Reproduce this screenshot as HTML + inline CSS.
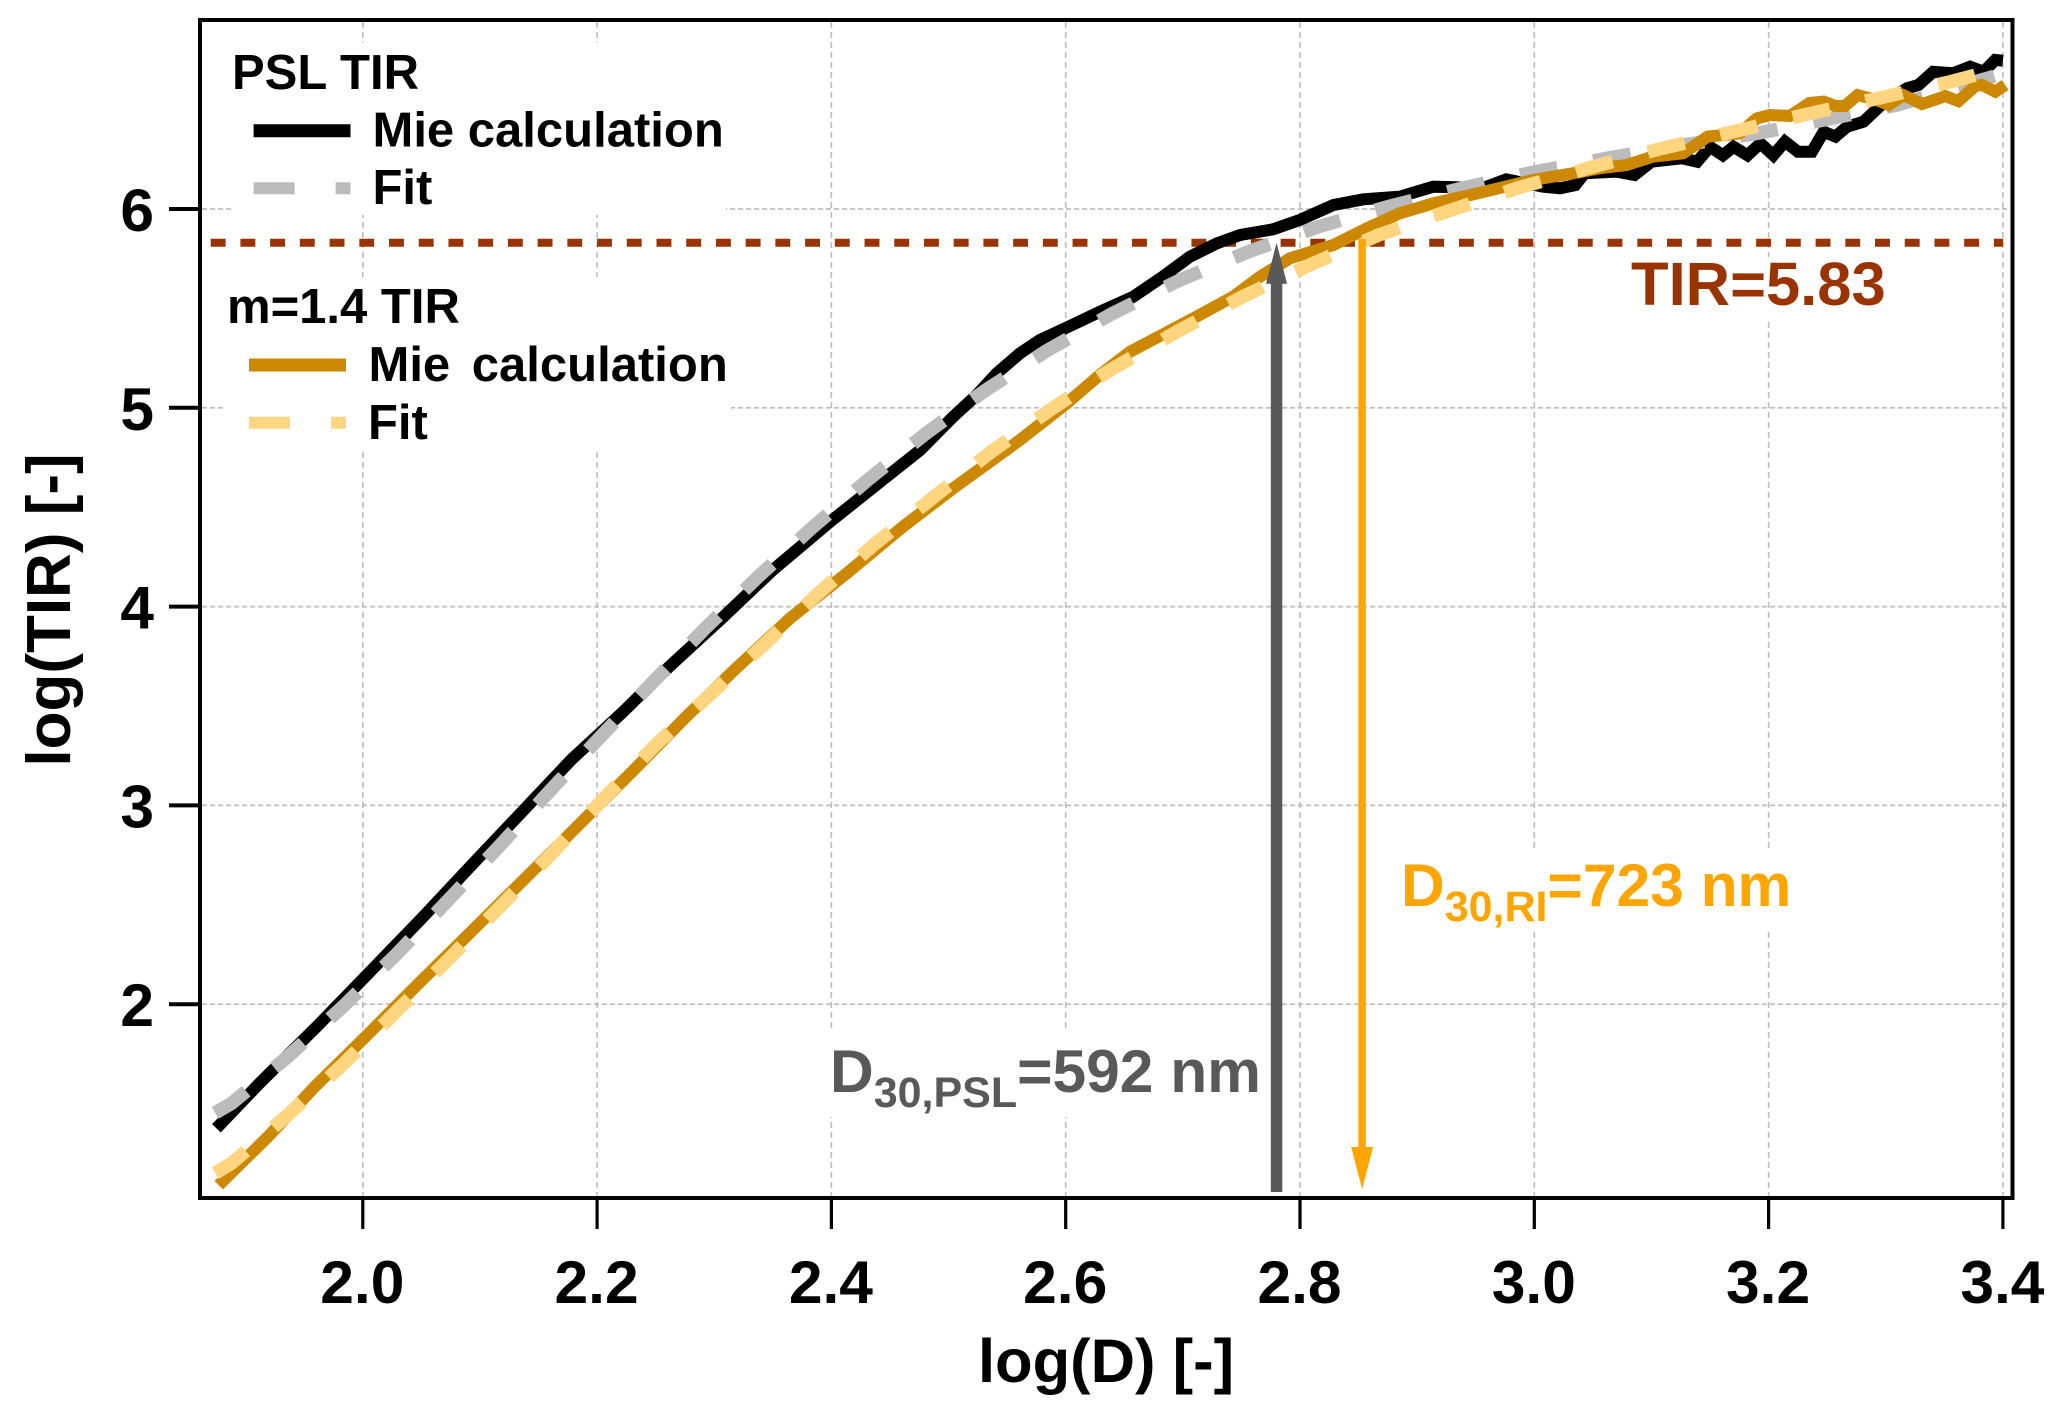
<!DOCTYPE html>
<html>
<head>
<meta charset="utf-8">
<title>log(TIR) vs log(D)</title>
<style>
html,body{margin:0;padding:0;background:#fff;}
svg{display:block;}
text{font-family:"Liberation Sans",Arial,sans-serif;font-weight:bold;}
</style>
</head>
<body>
<svg id="chart" xmlns="http://www.w3.org/2000/svg" width="2068" height="1413" viewBox="0 0 2068 1413">
<rect x="0" y="0" width="2068" height="1413" fill="#fff"/>
<g id="grid"></g>
<g id="masks">
<rect x="232" y="43" width="494" height="172" fill="#fff"/>
<rect x="224" y="277" width="507" height="173" fill="#fff"/>
<rect x="1626" y="257" width="264" height="61" fill="#fff"/>
<rect x="825" y="1032" width="437" height="85" fill="#fff"/>
<rect x="1396" y="850" width="400" height="80" fill="#fff"/>
</g>
<g id="threshold"></g>
<g id="series"></g>
<g id="arrows"></g>
<g id="axes"></g>

<g>
<text x="232" y="89" font-size="49" fill="#000">PSL TIR</text>
<line x1="253.6" x2="350.5" y1="130.7" y2="130.7" stroke="#000" stroke-width="13"/>
<text x="372.5" y="146.7" font-size="49" fill="#000">Mie calculation</text>
<line x1="253.6" x2="350.5" y1="188.3" y2="188.3" stroke="#bbbbbb" stroke-width="12" stroke-dasharray="41 41"/>
<text x="372.5" y="204" font-size="49" fill="#000">Fit</text>
</g>
<g>
<text x="227" y="323" font-size="49" fill="#000">m=1.4 TIR</text>
<line x1="249" x2="346" y1="365" y2="365" stroke="#cc8800" stroke-width="13"/>
<text x="368.5" y="381" font-size="49" fill="#000" word-spacing="8">Mie calculation</text>
<line x1="249" x2="346" y1="422.7" y2="422.7" stroke="#ffd67f" stroke-width="12" stroke-dasharray="41 41"/>
<text x="368" y="439" font-size="49" fill="#000">Fit</text>
</g>

<text x="1631" y="305" font-size="61.5" fill="#993300">TIR=5.83</text>

<text x="830" y="1092" font-size="60.5" fill="#595959">D<tspan font-size="43" dy="15">30,PSL</tspan><tspan dy="-15">=592 nm</tspan></text>
<text x="1401" y="906" font-size="60.5" fill="#ffa500">D<tspan font-size="43" dy="15">30,RI</tspan><tspan dy="-15">=723 nm</tspan></text>

<text x="1106" y="1382" font-size="61.5" fill="#000" text-anchor="middle">log(D) [-]</text>
<text transform="translate(70,610) rotate(-90)" font-size="62" fill="#000" text-anchor="middle">log(TIR) [-]</text>
</svg>

<script>
// Axis tick labels
const xTicks = [2.0, 2.2, 2.4, 2.6, 2.8, 3.0, 3.2, 3.4];
const yTicks = [2, 3, 4, 5, 6];

// Reference values
const tirThreshold = 5.83;
const d30Psl = 2.78;
const d30Ri = 2.853;

// PSL Mie calculation
const pslMieX = [1.875,1.912,1.962,2.0076,2.05,2.093,2.136,2.178,2.222,2.262,2.305,2.35,2.399,2.447,2.476,2.504,2.524,2.541,2.561,2.578,2.5995,2.629,2.6577,2.683,2.706,2.729,2.749,2.777,2.80,2.8285,2.854,2.885,2.9137,2.93,2.956,2.976,3.0076,3.022,3.035,3.043,3.07,3.0855,3.1,3.126,3.139,3.15,3.161,3.17,3.182,3.193,3.204,3.214,3.225,3.237,3.247,3.257,3.267,3.281,3.296,3.318,3.328,3.3405,3.3576,3.372,3.3835,3.3935,3.4];
const pslMieY = [1.376,1.603,1.895,2.172,2.43,2.70,2.968,3.23,3.47,3.70,3.933,4.184,4.427,4.653,4.788,4.955,5.064,5.173,5.274,5.341,5.4,5.483,5.559,5.66,5.76,5.827,5.869,5.898,5.945,6.02,6.049,6.062,6.112,6.11,6.105,6.149,6.112,6.104,6.12,6.18,6.188,6.171,6.238,6.255,6.238,6.313,6.27,6.313,6.27,6.33,6.27,6.339,6.288,6.288,6.389,6.364,6.414,6.439,6.523,6.607,6.624,6.69,6.683,6.716,6.69,6.75,6.746];

// PSL fit
const pslFitX = [1.874,1.888,1.936,1.983,2.029,2.073,2.116,2.159,2.203,2.2466,2.2907,2.336,2.383,2.431,2.481,2.532,2.585,2.64,2.6976,2.756,2.816,2.877,2.938,2.999,3.062,3.125,3.19,3.25,3.31,3.372,3.4];
const pslFitY = [1.453,1.5015,1.736,1.988,2.253,2.524,2.792,3.069,3.346,3.614,3.882,4.142,4.394,4.637,4.872,5.09,5.291,5.475,5.643,5.785,5.911,6.015,6.104,6.185,6.255,6.32,6.38,6.451,6.523,6.633,6.68];

// m=1.4 Mie calculation
const riMieX = [1.877,1.919,1.959,2.0047,2.047,2.09,2.138,2.184,2.23,2.275,2.316,2.3647,2.413,2.461,2.504,2.561,2.601,2.629,2.655,2.709,2.743,2.766,2.7915,2.8285,2.857,2.885,2.914,2.945,2.999,3.0334,3.056,3.0785,3.101,3.127,3.148,3.175,3.19,3.201,3.218,3.235,3.247,3.257,3.265,3.276,3.2925,3.3025,3.315,3.331,3.351,3.362,3.3765,3.382,3.3935,3.402];
const riMieY = [1.09,1.333,1.585,1.85,2.10,2.35,2.63,2.90,3.17,3.44,3.675,3.941,4.167,4.402,4.595,4.838,5.023,5.165,5.282,5.45,5.559,5.66,5.752,5.819,5.903,5.978,6.029,6.07,6.146,6.18,6.205,6.221,6.263,6.28,6.364,6.38,6.456,6.473,6.468,6.533,6.54,6.518,6.518,6.573,6.548,6.523,6.573,6.528,6.568,6.543,6.619,6.624,6.59,6.624];

// m=1.4 fit
const riFitX = [1.874,1.888,1.936,1.9825,2.0275,2.0725,2.117,2.161,2.205,2.25,2.296,2.342,2.388,2.436,2.486,2.5354,2.5866,2.638,2.695,2.751,2.808,2.867,2.9266,2.9864,3.0475,3.1087,3.17,3.232,3.2935,3.355,3.4];
const riFitY = [1.15,1.2,1.443,1.694,1.957,2.222,2.49,2.756,3.03,3.305,3.555,3.807,4.062,4.31,4.545,4.774,4.989,5.19,5.383,5.559,5.718,5.869,5.99,6.107,6.207,6.305,6.389,6.476,6.557,6.64,6.71];

const SVGNS = 'http://www.w3.org/2000/svg';
function xScale(v){ return 362.8 + (v - 2) * 1171.5; }
function yScale(v){ return 209 + (6 - v) * 198.8; }
function mk(tag, attrs, parent){
  const el = document.createElementNS(SVGNS, tag);
  for (const k in attrs) el.setAttribute(k, attrs[k]);
  parent.appendChild(el);
  return el;
}
function pathFrom(xs, ys){
  return xs.map(function(x, i){
    return (i ? 'L' : 'M') + xScale(x).toFixed(1) + ' ' + yScale(ys[i]).toFixed(1);
  }).join(' ');
}

const gridG = document.getElementById('grid');
const axesG = document.getElementById('axes');
const seriesG = document.getElementById('series');
const arrowsG = document.getElementById('arrows');
const thresholdG = document.getElementById('threshold');

xTicks.forEach(function(t){
  const g = mk('line', {x1:xScale(t), x2:xScale(t), y1:22, y2:1196, stroke:'#bdbdbd', 'stroke-width':1.6, 'stroke-dasharray':'6 4'}, gridG);
  
  
  const tk = mk('line', {x1:xScale(t), x2:xScale(t), y1:1198, y2:1229, stroke:'#000', 'stroke-width':3.2}, axesG);
  
  
  const lb = mk('text', {x:xScale(t) - 0.5, y:1303, 'font-size':60.5, 'text-anchor':'middle', fill:'#000'}, axesG);
  lb.textContent = t.toFixed(1);
  
  
});
yTicks.forEach(function(t){
  const g = mk('line', {x1:202, x2:2010, y1:yScale(t), y2:yScale(t), stroke:'#bdbdbd', 'stroke-width':1.7, 'stroke-dasharray':'5 3'}, gridG);
  
  
  const tk = mk('line', {x1:169, x2:200, y1:yScale(t), y2:yScale(t), stroke:'#000', 'stroke-width':4}, axesG);
  
  
  const lb = mk('text', {x:154, y:yScale(t) + 22, 'font-size':60.5, 'text-anchor':'end', fill:'#000'}, axesG);
  lb.textContent = String(t);
  
  
});

const frame = mk('rect', {x:200, y:20, width:1812.5, height:1178, fill:'none', stroke:'#000', 'stroke-width':4}, axesG);



const tirLine = mk('line', {x1:210.7, x2:2003, y1:yScale(tirThreshold), y2:yScale(tirThreshold), stroke:'#993300', 'stroke-width':8, 'stroke-dasharray':'14.9 14.82'}, thresholdG);



const s1 = mk('path', {d:pathFrom(pslMieX, pslMieY), fill:'none', stroke:'#000', 'stroke-width':12, 'stroke-linejoin':'miter', 'stroke-miterlimit':3}, seriesG);


const s2 = mk('path', {d:pathFrom(pslFitX, pslFitY), fill:'none', stroke:'#bbbbbb', 'stroke-width':13.5, 'stroke-dasharray':'38 36.5'}, seriesG);


const s3 = mk('path', {d:pathFrom(riMieX, riMieY), fill:'none', stroke:'#cc8800', 'stroke-width':12, 'stroke-linejoin':'miter', 'stroke-miterlimit':3}, seriesG);


const s4 = mk('path', {d:pathFrom(riFitX, riFitY), fill:'none', stroke:'#ffd67f', 'stroke-width':13.5, 'stroke-dasharray':'38 36.5'}, seriesG);



// Grey arrow: points up to the threshold
const gx = xScale(d30Psl);
const gy = yScale(tirThreshold);
const a1 = mk('line', {x1:gx, x2:gx, y1:1192, y2:gy + 38, stroke:'#595959', 'stroke-width':11.5}, arrowsG);


const a2 = mk('polygon', {points:gx + ',' + gy + ' ' + (gx - 10.5) + ',' + (gy + 41) + ' ' + (gx + 10.5) + ',' + (gy + 41), fill:'#595959'}, arrowsG);



// Orange arrow: points down to the axis
const ox = xScale(d30Ri);
const oy = yScale(tirThreshold);
const a3 = mk('line', {x1:ox, x2:ox, y1:oy - 4, y2:1150, stroke:'#ffa500', 'stroke-width':7.5}, arrowsG);


const a4 = mk('polygon', {points:ox + ',1189 ' + (ox - 11) + ',1147 ' + (ox + 11) + ',1147', fill:'#ffa500'}, arrowsG);


</script>
</body>
</html>
